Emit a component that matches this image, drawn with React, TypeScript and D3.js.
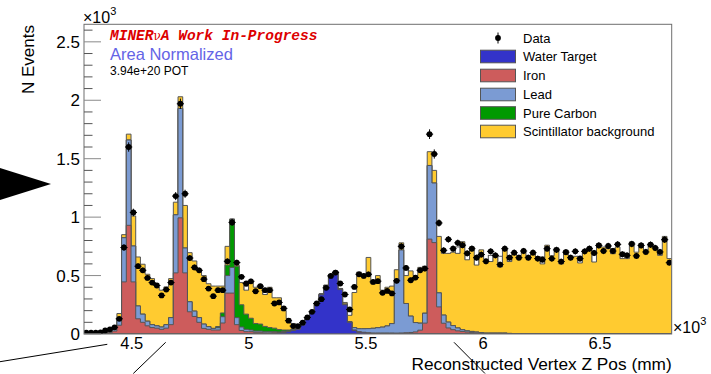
import React from 'react';
import * as d3 from 'd3';

// Reconstructed vertex Z, in units of 10^3 mm
const X_MIN = 4.296;
const X_MAX = 6.806;
const N_BINS = 125;

// Data, area normalized (×10^3 events per bin)
const dataValues = [
  0.012, 0.012, 0.012, 0.014, 0.03, 0.04, 0.057, 0.13, 0.74, 1.6,
  1.04, 0.58, 0.545, 0.48, 0.44, 0.415, 0.33, 0.38, 0.44, 1.18,
  1.97, 1.2, 0.65, 0.57, 0.545, 0.469, 0.389, 0.324, 0.375, 0.375,
  0.622, 0.955, 0.611, 0.489, 0.432, 0.451, 0.366, 0.409, 0.375, 0.375,
  0.261, 0.27, 0.219, 0.114, 0.068, 0.068, 0.097, 0.142, 0.19, 0.261,
  0.298, 0.395, 0.497, 0.526, 0.432, 0.338, 0.21, 0.403, 0.511, 0.497,
  0.511, 0.446, 0.452, 0.352, 0.369, 0.347, 0.455, 0.75, 0.565, 0.46,
  0.483, 0.545, 0.56, 1.71, 1.54, 0.95, 0.716, 0.81, 0.73, 0.78,
  0.76, 0.69, 0.73, 0.653, 0.68, 0.622, 0.707, 0.673, 0.594, 0.73,
  0.653, 0.696, 0.653, 0.71, 0.653, 0.696, 0.645, 0.636, 0.73, 0.645,
  0.72, 0.62, 0.7, 0.653, 0.707, 0.645, 0.707, 0.73, 0.693, 0.758,
  0.71, 0.753, 0.71, 0.767, 0.682, 0.673, 0.77, 0.668, 0.758, 0.702,
  0.764, 0.736, 0.702, 0.807, 0.61,
];

// Simulated components (stacked bottom to top)
const waterTarget = [
  0, 0, 0, 0, 0, 0, 0, 0, 0, 0,
  0, 0, 0, 0, 0, 0, 0, 0, 0, 0,
  0, 0, 0, 0, 0, 0, 0, 0, 0, 0,
  0, 0, 0, 0, 0, 0, 0, 0, 0, 0,
  0.005, 0.008, 0.012, 0.02, 0.03, 0.04, 0.077, 0.13, 0.185, 0.26,
  0.335, 0.41, 0.5, 0.53, 0.38, 0.25, 0.1, 0.03, 0.015, 0.01,
  0.006, 0.004, 0.004, 0.004, 0.004, 0.004, 0.003, 0.003, 0.003, 0.003,
  0.003, 0.003, 0.003, 0.002, 0.002, 0.002, 0.002, 0.002, 0.002, 0.002,
  0.002, 0.002, 0.002, 0.002, 0.002, 0.002, 0.002, 0.002, 0.002, 0.002,
  0.002, 0, 0, 0, 0, 0, 0, 0, 0, 0,
  0, 0, 0, 0, 0, 0, 0, 0, 0, 0,
  0, 0, 0, 0, 0, 0, 0, 0, 0, 0,
  0, 0, 0, 0, 0,
];

const iron = [
  0, 0, 0, 0, 0.005, 0.012, 0.025, 0.075, 0.446, 0.93,
  0.446, 0.13, 0.1, 0.07, 0.055, 0.05, 0.04, 0.05, 0.08, 0.523,
  0.994, 0.523, 0.19, 0.15, 0.1, 0.048, 0.04, 0.034, 0.034, 0.094,
  0.35, 0.35, 0.08, 0.03, 0.02, 0.02, 0.015, 0.015, 0.01, 0.01,
  0.01, 0.005, 0.005, 0.003, 0.003, 0.003, 0.003, 0.003, 0.003, 0.003,
  0.003, 0.003, 0.003, 0.003, 0.003, 0.003, 0.003, 0.005, 0.005, 0.005,
  0.005, 0.005, 0.005, 0.005, 0.005, 0.005, 0.005, 0.006, 0.008, 0.01,
  0.015, 0.03, 0.09, 0.81, 0.78, 0.23, 0.09, 0.05, 0.035, 0.025,
  0.02, 0.015, 0.01, 0.008, 0.005, 0.003, 0.003, 0.003, 0.003, 0.003,
  0, 0, 0, 0, 0, 0, 0, 0, 0, 0,
  0, 0, 0, 0, 0, 0, 0, 0, 0, 0,
  0, 0, 0, 0, 0, 0, 0, 0, 0, 0,
  0, 0, 0, 0, 0,
];

const lead = [
  0, 0, 0, 0, 0, 0.005, 0.02, 0.06, 0.378, 0.73,
  0.307, 0.11, 0.07, 0.04, 0.025, 0.02, 0.02, 0.03, 0.06, 0.497,
  0.936, 0.213, 0.086, 0.046, 0.04, 0.037, 0.023, 0.014, 0.02, 0.054,
  0.15, 0.22, 0.06, 0.03, 0.02, 0.015, 0.01, 0.01, 0.01, 0.01,
  0.005, 0.005, 0.005, 0.003, 0.003, 0.003, 0.003, 0.003, 0.003, 0.003,
  0.003, 0.003, 0.003, 0.003, 0.003, 0.003, 0.003, 0.02, 0.025, 0.03,
  0.035, 0.04, 0.045, 0.05, 0.06, 0.08, 0.45, 0.71, 0.25, 0.14,
  0.08, 0.06, 0.085, 0.63, 0.51, 0.12, 0.07, 0.05, 0.035, 0.025,
  0.015, 0.01, 0.01, 0.007, 0.005, 0.003, 0.003, 0.003, 0.003, 0.003,
  0.003, 0, 0, 0, 0, 0, 0, 0, 0, 0,
  0, 0, 0, 0, 0, 0, 0, 0, 0, 0,
  0, 0, 0, 0, 0, 0, 0, 0, 0, 0,
  0, 0, 0, 0, 0,
];

const pureCarbon = [
  0, 0, 0, 0, 0, 0, 0, 0, 0, 0,
  0, 0, 0, 0, 0, 0, 0, 0, 0, 0,
  0, 0, 0, 0, 0, 0, 0, 0, 0.01, 0.032,
  0.09, 0.41, 0.44, 0.19, 0.13, 0.1, 0.065, 0.06, 0.045, 0.035,
  0.03, 0.02, 0.012, 0.008, 0.005, 0.003, 0.002, 0.002, 0.002, 0.002,
  0.002, 0, 0, 0, 0, 0, 0, 0, 0, 0,
  0, 0, 0, 0, 0, 0, 0, 0, 0, 0,
  0, 0, 0, 0, 0, 0, 0, 0, 0, 0,
  0, 0, 0, 0, 0, 0, 0, 0, 0, 0,
  0, 0, 0, 0, 0, 0, 0, 0, 0, 0,
  0, 0, 0, 0, 0, 0, 0, 0, 0, 0,
  0, 0, 0, 0, 0, 0, 0, 0, 0, 0,
  0, 0, 0, 0, 0,
];

const scintillator = [
  0.002, 0.003, 0.004, 0.006, 0.005, 0.003, 0.005, 0.04, 0.026, 0.05,
  0.257, 0.419, 0.427, 0.401, 0.394, 0.333, 0.315, 0.323, 0.334, 0.108,
  0.1, 0.364, 0.42, 0.429, 0.405, 0.415, 0.367, 0.362, 0.346, 0.23,
  0.16, 0.005, 0.01, 0.19, 0.205, 0.31, 0.31, 0.335, 0.273, 0.345,
  0.26, 0.272, 0.166, 0.097, 0.049, 0.029, 0.012, 0.002, 0.002, 0.002,
  0.002, 0.002, 0.002, 0.002, 0.004, 0.014, 0.054, 0.3, 0.485, 0.455,
  0.609, 0.381, 0.446, 0.316, 0.331, 0.321, 0.092, 0.061, 0.239, 0.387,
  0.402, 0.477, 0.402, 0.118, 0.108, 0.483, 0.528, 0.588, 0.628, 0.638,
  0.753, 0.608, 0.723, 0.573, 0.708, 0.632, 0.612, 0.667, 0.566, 0.722,
  0.615, 0.7, 0.67, 0.7, 0.66, 0.7, 0.66, 0.6, 0.76, 0.67,
  0.736, 0.6, 0.716, 0.665, 0.665, 0.608, 0.716, 0.744, 0.616, 0.773,
  0.744, 0.73, 0.687, 0.744, 0.645, 0.645, 0.787, 0.7, 0.773, 0.716,
  0.778, 0.744, 0.673, 0.835, 0.645,
];

// Total-MC outline, only where it rises above the filled stack
const outlineBins = [34, 38, 56, 68, 79, 81, 83, 86, 88, 90, 97, 105, 108, 112, 114, 122];
const outlineValues = [0.41, 0.375, 0.2, 0.56, 0.745, 0.7, 0.665, 0.673, 0.665, 0.67, 0.66, 0.665, 0.7, 0.73, 0.7, 0.71];

const xTickValues = [4.5, 5, 5.5, 6, 6.5];
const xTickLabels = ['4.5', '5', '5.5', '6', '6.5'];
const yTickValues = [0, 0.5, 1, 1.5, 2, 2.5];
const yTickLabels = ['0', '0.5', '1', '1.5', '2', '2.5'];

const componentNames = ['Water Target', 'Iron', 'Lead', 'Pure Carbon', 'Scintillator background'];
const componentColors = ['#3333c9', '#cd5c5c', '#7b9bd3', '#009900', '#ffcb30'];
const componentValues = [waterTarget, iron, lead, pureCarbon, scintillator];

const FONT = '"Liberation Sans", Arial, Helvetica, sans-serif';
const LEFT = 84;
const RIGHT = 671.7;
const TOP = 24.3;
const BOTTOM = 334;

export default function App() {
  const x = d3.scaleLinear().domain([X_MIN, X_MAX]).range([LEFT, RIGHT]);
  const y = d3.scaleLinear().domain([0, 2.65]).range([BOTTOM, TOP]);
  const binW = (X_MAX - X_MIN) / N_BINS;
  const edges = d3.range(N_BINS + 1).map((i) => X_MIN + i * binW);

  // cumulative sums for the stack
  const cumulative: number[][] = [];
  let acc = new Array(N_BINS).fill(0);
  componentValues.forEach((vals) => {
    acc = acc.map((a, i) => a + vals[i]);
    cumulative.push(acc);
  });

  const area = d3
    .area<[number, number]>()
    .x((d) => x(d[0]))
    .y0(y(0))
    .y1((d) => y(d[1]))
    .curve(d3.curveStepAfter);

  const stepPoints = (vals: number[]) =>
    edges.map((e, i) => [e, vals[Math.min(i, N_BINS - 1)]] as [number, number]);

  const minorTicks = d3.range(0, 27).map((i) => i / 10);
  const stackTop = cumulative[cumulative.length - 1];

  const legendRows = [38, 56.5, 75.5, 94.5, 113, 131.5];

  return (
    <svg
      width={711}
      height={374}
      style={{ position: 'absolute', left: 0, top: 0, background: '#fff' }}
      fontFamily={FONT}
    >
      <defs>
        <clipPath id="plotArea">
          <rect x={LEFT} y={TOP} width={RIGHT - LEFT} height={BOTTOM - TOP} />
        </clipPath>
      </defs>

      <g clipPath="url(#plotArea)">
        {/* total-MC outline boxes sit behind the stack */}
        {outlineBins.map((b, k) =>
          outlineValues[k] > stackTop[b] ? (
            <rect
              key={'o' + b}
              x={x(edges[b])}
              y={y(outlineValues[k])}
              width={x(edges[b + 1]) - x(edges[b])}
              height={y(0) - y(outlineValues[k])}
              fill="#fff"
              stroke="#555"
              strokeWidth={1}
            />
          ) : null
        )}
        {/* stack drawn from the tallest cumulative down */}
        {cumulative
          .map((c, k) => ({ c, k }))
          .reverse()
          .map(({ c, k }) => (
            <path
              key={'s' + k}
              d={area(stepPoints(c)) || ''}
              fill={componentColors[k]}
              stroke="#555"
              strokeWidth={1}
            />
          ))}
        {/* data with sqrt(N) statistical uncertainty */}
        {dataValues.map((v, i) => {
          const cx = x(X_MIN + (i + 0.5) * binW);
          const err = Math.sqrt(v * 1000) / 1000;
          return (
            <g key={'d' + i}>
              <line x1={cx} x2={cx} y1={y(v + err)} y2={y(Math.max(0, v - err))} stroke="#000" strokeWidth={1} />
              <line x1={cx - 3.6} x2={cx + 3.6} y1={y(v)} y2={y(v)} stroke="#000" strokeWidth={1} />
              <circle cx={cx} cy={y(v)} r={2.9} fill="#000" />
            </g>
          );
        })}
      </g>

      {/* frame */}
      <rect x={LEFT} y={TOP} width={RIGHT - LEFT} height={BOTTOM - TOP} fill="none" stroke="#6e6e6e" strokeWidth={1} />

      {/* y axis ticks */}
      {minorTicks.map((t) => {
        const major = Math.abs(t * 2 - Math.round(t * 2)) < 1e-6;
        return (
          <line
            key={'yt' + t}
            x1={LEFT}
            x2={LEFT + (major ? 17 : 8.5)}
            y1={y(t)}
            y2={y(t)}
            stroke={major ? '#8a8a8a' : '#555'}
            strokeWidth={1}
          />
        );
      })}
      {yTickValues.map((t, i) => (
        <text key={'yl' + t} x={80} y={y(t) + 6} fontSize={17} textAnchor="end" fill="#000">
          {yTickLabels[i]}
        </text>
      ))}
      {xTickValues.map((t, i) => (
        <text key={'xl' + t} x={x(t)} y={349} fontSize={16.5} textAnchor="middle" fill="#000">
          {xTickLabels[i]}
        </text>
      ))}

      {/* exponent labels */}
      <text x={83} y={22.5} fontSize={16} fill="#000">
        ×10<tspan fontSize={11} dy={-8}>3</tspan>
      </text>
      <text x={673} y={333} fontSize={16} fill="#000">
        ×10<tspan fontSize={11} dy={-8}>3</tspan>
      </text>

      {/* axis titles */}
      <text x={RIGHT} y={369.5} fontSize={17.3} textAnchor="end" fill="#000">
        Reconstructed Vertex Z Pos (mm)
      </text>
      <text transform="translate(34,25) rotate(-90)" fontSize={17} textAnchor="end" fill="#000">
        N Events
      </text>

      {/* labels */}
      <text
        x={110}
        y={40}
        fontSize={14.5}
        fontFamily='"Liberation Mono", "Courier New", monospace'
        fontWeight="bold"
        fontStyle="italic"
        fill="#dd0000"
      >
        MINER
        <tspan fontFamily='"DejaVu Serif", serif' fontWeight="normal" fontStyle="normal" fontSize={12}>
          ν
        </tspan>
        A Work In-Progress
      </text>
      <text x={110} y={60} fontSize={16.5} fill="#6464e6">
        Area Normalized
      </text>
      <text x={110} y={74.5} fontSize={12} fill="#000">
        3.94e+20 POT
      </text>

      {/* legend */}
      <g>
        <line x1={498} x2={498} y1={legendRows[0] - 5.5} y2={legendRows[0] + 5.5} stroke="#000" strokeWidth={1} />
        <circle cx={498} cy={legendRows[0]} r={2.9} fill="#000" />
        <text x={523} y={legendRows[0] + 4.7} fontSize={13} fill="#000">
          Data
        </text>
        {componentNames.map((name, k) => (
          <g key={'lg' + k}>
            <rect
              x={480.5}
              y={legendRows[k + 1] - 6.3}
              width={35}
              height={12.6}
              fill={componentColors[k]}
              stroke="#555"
              strokeWidth={1}
            />
            <text x={523} y={legendRows[k + 1] + 4.7} fontSize={13} fill="#000">
              {name}
            </text>
          </g>
        ))}
      </g>

      {/* annotation marks */}
      <polygon points="0,168 51,184 0,200" fill="#000" />
      <line x1={0} y1={361.7} x2={107.3} y2={344.3} stroke="#000" strokeWidth={1} />
      <line x1={133.3} y1={373.5} x2={165.7} y2={342.3} stroke="#000" strokeWidth={1} />
      <line x1={454} y1={342.3} x2={485} y2={373.5} stroke="#000" strokeWidth={1} />
    </svg>
  );
}
